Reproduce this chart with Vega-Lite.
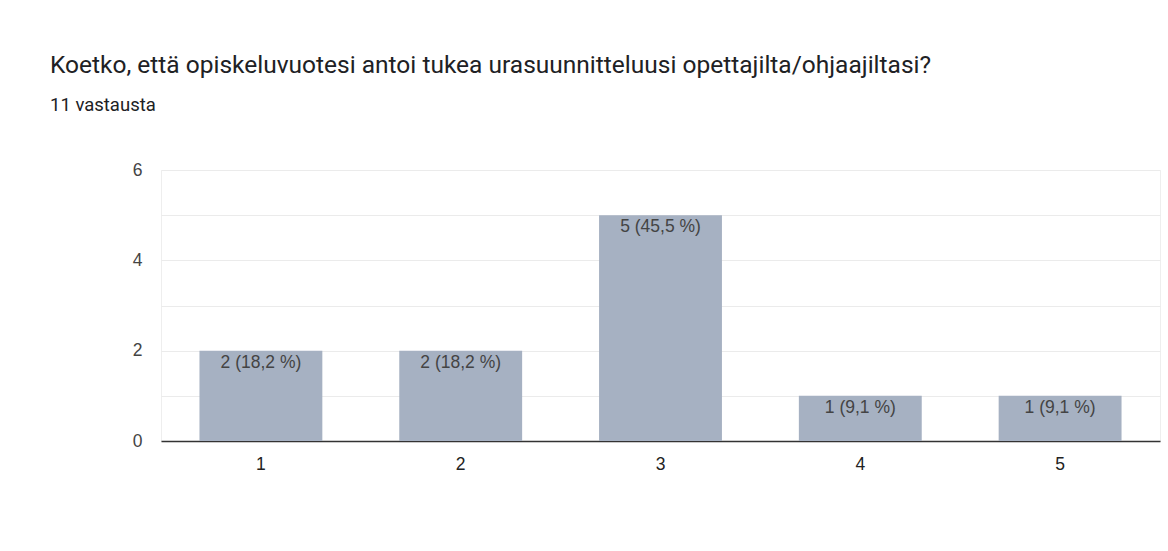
{
  "$schema": "https://vega.github.io/schema/vega-lite/v6.json",
  "autosize": "none",
  "width": 999,
  "height": 271,
  "padding": {"left": 161, "top": 170, "right": 8, "bottom": 110},
  "background": "white",
  "title": {
    "text": "Koetko, että opiskeluvuotesi antoi tukea urasuunnitteluusi opettajilta/ohjaajiltasi?",
    "subtitle": "11 vastausta",
    "anchor": "start",
    "frame": "group",
    "dx": -111,
    "offset": 46,
    "font": "Roboto",
    "fontSize": 24.5,
    "fontWeight": "normal",
    "color": "#202124",
    "subtitleFont": "Roboto",
    "subtitleFontSize": 18.5,
    "subtitleColor": "#202124",
    "subtitlePadding": 17
  },
  "data": {
    "values": [
      {"vastaus": "1", "count": 2, "label": "2 (18,2 %)"},
      {"vastaus": "2", "count": 2, "label": "2 (18,2 %)"},
      {"vastaus": "3", "count": 5, "label": "5 (45,5 %)"},
      {"vastaus": "4", "count": 1, "label": "1 (9,1 %)"},
      {"vastaus": "5", "count": 1, "label": "1 (9,1 %)"}
    ]
  },
  "encoding": {
    "x": {
      "field": "vastaus",
      "type": "nominal",
      "sort": null,
      "scale": {"paddingInner": 0.385, "paddingOuter": 0.1925},
      "axis": {
        "title": null,
        "labelAngle": 0,
        "ticks": false,
        "domainColor": "#333333",
        "domainWidth": 1.5,
        "labelFont": "Liberation Sans",
        "labelFontSize": 17.5,
        "labelColor": "#222222",
        "labelPadding": 14,
        "grid": false
      }
    },
    "y": {
      "field": "count",
      "type": "quantitative",
      "scale": {"domain": [0, 6], "nice": false},
      "axis": {
        "title": null,
        "values": [0, 1, 2, 3, 4, 5, 6],
        "labelExpr": "datum.value % 2 == 0 ? datum.label : ''",
        "ticks": false,
        "domain": false,
        "gridColor": "#ebebeb",
        "labelFont": "Liberation Sans",
        "labelFontSize": 17.5,
        "labelColor": "#444444",
        "labelPadding": 19
      }
    }
  },
  "layer": [
    {"mark": {"type": "bar", "color": "#a6b1c2"}},
    {
      "mark": {
        "type": "text",
        "baseline": "top",
        "dy": 3,
        "font": "Liberation Sans",
        "fontSize": 17.5,
        "color": "#444444"
      },
      "encoding": {"text": {"field": "label"}}
    }
  ],
  "config": {
    "view": {"stroke": "#eeeeee", "strokeWidth": 1}
  }
}
